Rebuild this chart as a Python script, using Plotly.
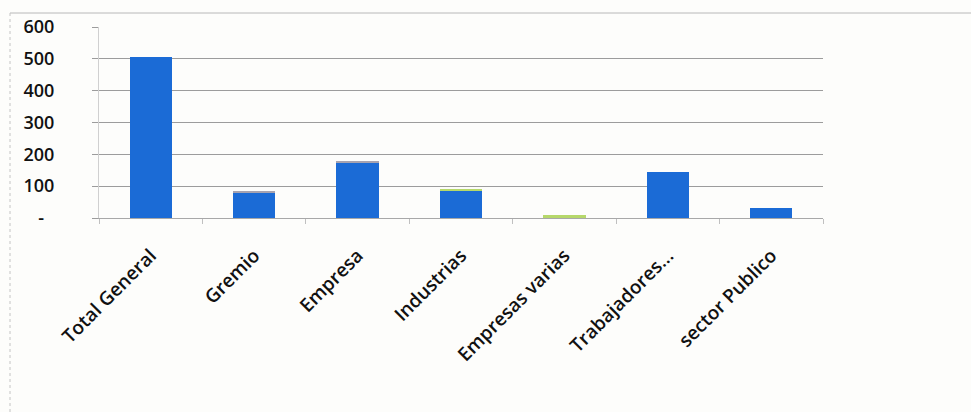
import plotly.graph_objects as go

categories = ["Total General", "Gremio", "Empresa", "Industrias",
              "Empresas varias", "Trabajadores...", "sector Publico"]
serie_principal = [505, 80, 173, 87, 0, 144, 32]
serie_gris = [0, 3, 6, 0, 0, 0, 0]
serie_verde = [0, 0, 0, 3, 8, 0, 0]
y_ticks = [0, 100, 200, 300, 400, 500, 600]
y_tick_labels = ["-\u2007", "100", "200", "300", "400", "500", "600"]

W, H = 971, 412
L, R, T, B = 99, 823, 27, 218

fig = go.Figure()
fig.add_trace(go.Bar(x=categories, y=serie_principal, marker_color="#1b6bd6",
                     marker_line_width=0, showlegend=False))
fig.add_trace(go.Bar(x=categories, y=serie_gris, marker_color="#a7a3b0",
                     marker_line_width=0, showlegend=False))
fig.add_trace(go.Bar(x=categories, y=serie_verde, marker_color="#b6d86a",
                     marker_line_width=0, showlegend=False))

def px_x(p):
    return (p - L) / (R - L)

def px_y(p):
    return (B - p) / (B - T)

fig.add_shape(type="line", xref="paper", yref="paper",
              x0=px_x(10), x1=px_x(971), y0=px_y(13), y1=px_y(13),
              line=dict(color="#b8b8b8", width=1))
fig.add_shape(type="line", xref="paper", yref="paper",
              x0=px_x(10), x1=px_x(10), y0=px_y(13), y1=px_y(412),
              line=dict(color="#c4c4c4", width=1, dash="dot"))

fig.update_layout(
    width=W, height=H,
    margin=dict(l=L, r=W - R, t=T, b=H - B, autoexpand=False),
    barmode="stack", bargap=0.59,
    paper_bgcolor="#fdfdfb", plot_bgcolor="#fdfdfb",
    font=dict(family="Open Sans", color="#111111"),
    xaxis=dict(
        tickangle=-45, tickfont=dict(size=19, weight=600, color="#111111"),
        showgrid=False, showline=True, linecolor="#a8a8a8", linewidth=1,
        ticks="outside", tickson="boundaries", ticklen=5, tickcolor="#c0c0c0",
        ticklabelstandoff=18,
        range=[-0.5, 6.5],
    ),
    yaxis=dict(
        range=[0, 600], tickvals=y_ticks, ticktext=y_tick_labels,
        tickfont=dict(size=18, weight=600, color="#111111"),
        showgrid=True, gridcolor="#9c9c9c", gridwidth=1,
        ticks="outside", ticklen=6, tickcolor="#9c9c9c",
        ticklabelstandoff=34,
        showline=True, linecolor="#d0d0d0", linewidth=1,
        zeroline=False,
    ),
)

fig.write_html("out.html")
